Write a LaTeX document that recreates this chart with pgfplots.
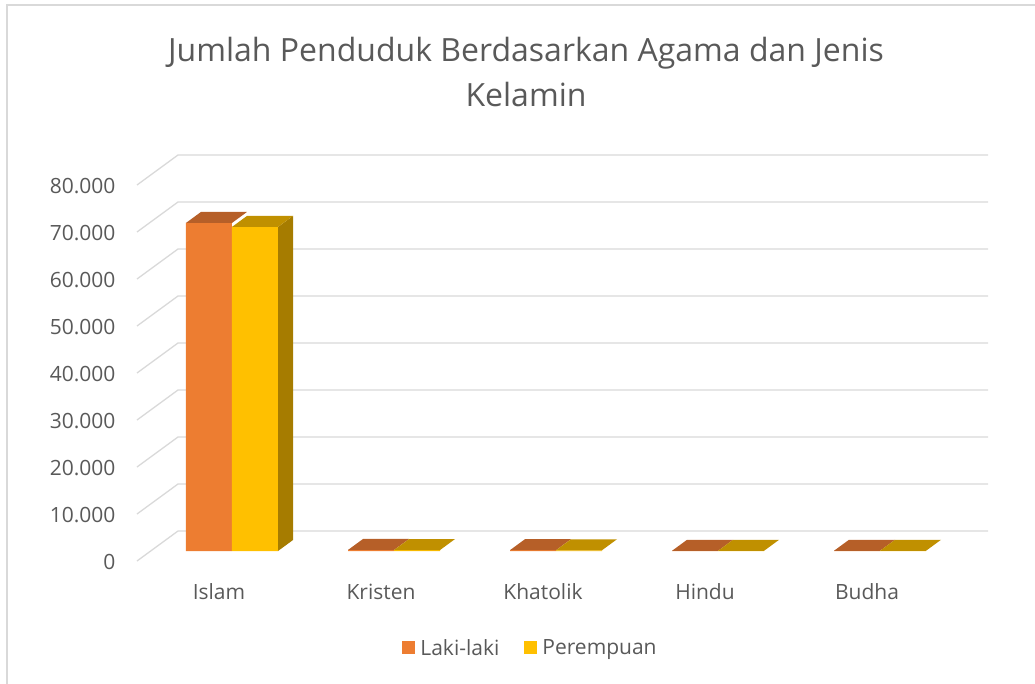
\documentclass[border=0pt]{standalone}
\usepackage{pgfplots}
\pgfplotsset{compat=1.18}
\usepackage{pgfplotstable}
\usepackage{fontspec}
\setmainfont{Open Sans}

\definecolor{txt}{HTML}{595959}
\definecolor{gridc}{HTML}{D9D9D9}
\definecolor{orangec}{HTML}{ED7D31}
\definecolor{orangetop}{HTML}{B65F28}
\definecolor{yellowc}{HTML}{FFC000}
\definecolor{yellowtop}{HTML}{C09000}
\definecolor{yellowside}{HTML}{A67C00}

% penduduk per agama: L = laki-laki, P = perempuan
\pgfplotstableread{
x L P
0 69800 68950
1 220 200
2 180 160
3 40 35
4 50 45
}\datatable

% top faces of the 3d bars (1pt = 1px)
\pgfdeclareplotmark{topL}{%
  \pgfpathmoveto{\pgfqpoint{-46pt}{0pt}}%
  \pgfpathlineto{\pgfqpoint{0pt}{0pt}}%
  \pgfpathlineto{\pgfqpoint{15pt}{11pt}}%
  \pgfpathlineto{\pgfqpoint{-31pt}{11pt}}%
  \pgfpathclose\pgfusepathqfill}
\pgfdeclareplotmark{topP}{%
  \pgfpathmoveto{\pgfqpoint{0pt}{0pt}}%
  \pgfpathlineto{\pgfqpoint{46pt}{0pt}}%
  \pgfpathlineto{\pgfqpoint{61pt}{11pt}}%
  \pgfpathlineto{\pgfqpoint{15pt}{11pt}}%
  \pgfpathclose\pgfusepathqfill}

\begin{document}
\begin{tikzpicture}[x=1pt,y=1pt]
\useasboundingbox (0,0) rectangle (1035,-684);
\draw[gridc, line width=1.3pt] (7,-700) -- (7,-5) -- (1050,-5);
\node[anchor=base, text=txt, font=\fontsize{32}{38}\selectfont] at (526,-62) {Jumlah Penduduk Berdasarkan Agama dan Jenis};
\node[anchor=base, text=txt, font=\fontsize{32}{38}\selectfont] at (526,-107) {Kelamin};
\begin{axis}[
    at={(137pt,-561pt)}, anchor=south west,
    scale only axis, width=851pt, height=406pt,
    clip=false,
    xmin=-0.5864, xmax=4.6667,
    ymin=-2128, ymax=84255,
    axis line style={draw=none},
    tick style={draw=none}, major tick length=0pt,
    xtick={0,1,2,3,4},
    xticklabels={Islam,Kristen,Khatolik,Hindu,Budha},
    ytick={0,10000,...,80000},
    scaled y ticks=false,
    tick label style={font=\fontsize{21}{25}\selectfont, text=txt},
    xticklabel style={anchor=base, xshift=-13pt, yshift=-38pt},
    yticklabel style={anchor=east, xshift=-18pt, yshift=-11pt,
        /pgf/number format/.cd, fixed, 1000 sep={.}, assume math mode=true},
    legend columns=2,
    legend image code/.code={\fill[#1] (0pt,-6pt) rectangle (13pt,7pt);},
    legend style={at={(0.4624,-0.2143)}, anchor=center, draw=none, fill=none,
        font=\fontsize{21}{25}\selectfont, text=txt,
        /tikz/every odd column/.append style={column sep=3pt},
        /tikz/every even column/.append style={column sep=23pt}},
]
% 3d grid: front edge -> back wall
\addplot[gridc, line width=1.3pt, forget plot] coordinates {(-0.5864,-2128) (-0.3333,4255) (4.6667,4255)};
\addplot[gridc, line width=1.3pt, forget plot] coordinates {(-0.5864,7872) (-0.3333,14255) (4.6667,14255)};
\addplot[gridc, line width=1.3pt, forget plot] coordinates {(-0.5864,17872) (-0.3333,24255) (4.6667,24255)};
\addplot[gridc, line width=1.3pt, forget plot] coordinates {(-0.5864,27872) (-0.3333,34255) (4.6667,34255)};
\addplot[gridc, line width=1.3pt, forget plot] coordinates {(-0.5864,37872) (-0.3333,44255) (4.6667,44255)};
\addplot[gridc, line width=1.3pt, forget plot] coordinates {(-0.5864,47872) (-0.3333,54255) (4.6667,54255)};
\addplot[gridc, line width=1.3pt, forget plot] coordinates {(-0.5864,57872) (-0.3333,64255) (4.6667,64255)};
\addplot[gridc, line width=1.3pt, forget plot] coordinates {(-0.5864,67872) (-0.3333,74255) (4.6667,74255)};
\addplot[gridc, line width=1.3pt, forget plot] coordinates {(-0.5864,77872) (-0.3333,84255) (4.6667,84255)};

\addplot[ybar, bar width=46pt, bar shift=-23pt, fill=orangec, draw=none]
    table[x=x, y=L] {\datatable};
\addlegendentry{Laki-laki}
\addplot[only marks, mark=topL, fill=orangetop, draw=none, forget plot]
    table[x=x, y=L] {\datatable};

\addplot[ybar, bar width=46pt, bar shift=23pt, fill=yellowc, draw=none]
    table[x=x, y=P] {\datatable};
\addlegendentry{Perempuan}
\addplot[only marks, mark=topP, fill=yellowtop, draw=none, forget plot]
    table[x=x, y=P] {\datatable};
% right side of the Islam bar
\addplot[fill=yellowside, draw=none, forget plot] coordinates
    {(0.2840,0) (0.2840,68950) (0.3766,71290) (0.3766,2340) (0.2840,0)};
\end{axis}
\end{tikzpicture}
\end{document}
